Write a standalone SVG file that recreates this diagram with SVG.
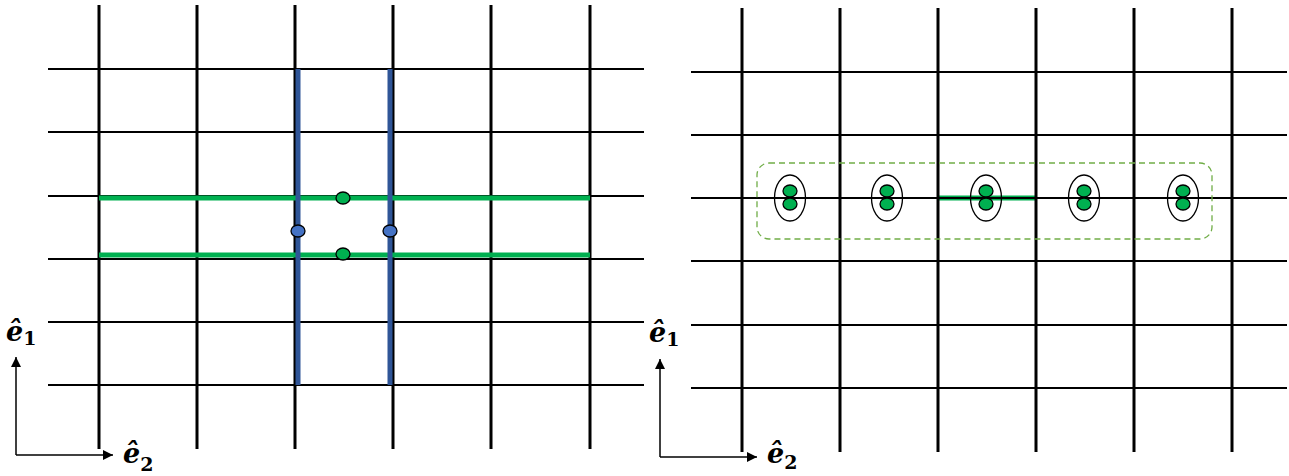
<svg xmlns="http://www.w3.org/2000/svg" width="1289" height="476" viewBox="0 0 1289 476">
<style>
.v{stroke:#000;stroke-width:3;fill:none}
.h{stroke:#000;stroke-width:2;fill:none}
.gl{stroke:#00B050;stroke-width:5;fill:none}
.bl{stroke:#2F5597;stroke-width:5;fill:none}
.gd{fill:#00B050;stroke:#000;stroke-width:1.3}
.bd{fill:#4472C4;stroke:#000;stroke-width:1.3}
.ring{fill:none;stroke:#000;stroke-width:1.3}
.ax{stroke:#000;stroke-width:1.5;fill:none}
.lbl{font-family:"DejaVu Serif",serif;font-weight:bold;font-style:italic;font-size:27px}
.sub{font-family:"DejaVu Serif",serif;font-weight:bold;font-style:normal;font-size:19px}
</style>
<defs>
<marker id="arr" viewBox="0 0 10 10" refX="10" refY="5" markerWidth="10" markerHeight="10" markerUnits="userSpaceOnUse" orient="auto">
<path d="M0,0 L10,5 L0,10 Z" fill="#000"/>
</marker>
</defs>

<g id="left-grid">
<path class="h" d="M48,69H644M48,132H644M48,196H644M48,259H644M48,322H644M48,385H644"/>
<path class="v" d="M99,5V449M197,5V449M295,5V449M393,5V449M491,5V449M590,5V449"/>
</g>
<g id="left-green-lines">
<path class="gl" d="M99,198H590M99,255H590"/>
</g>
<g id="left-blue-lines">
<path class="bl" d="M298,69V385M390,69V385"/>
</g>
<g id="left-dots">
<ellipse class="gd" cx="343" cy="198" rx="7" ry="6"/>
<ellipse class="gd" cx="343" cy="254" rx="7" ry="6"/>
<ellipse class="bd" cx="298" cy="231" rx="7" ry="6"/>
<ellipse class="bd" cx="390" cy="231" rx="7" ry="6"/>
</g>

<g id="right-grid">
<path class="gl" d="M938,198H1035"/>
<path class="h" d="M691,72H1287M691,135H1287M691,198H1287M691,261H1287M691,325H1287M691,388H1287"/>
<path class="v" d="M742,8V452M840,8V452M938,8V452M1036,8V452M1134,8V452M1232,8V452"/>
</g>
<g id="right-group">
<rect x="757" y="163" width="455" height="76" rx="12" ry="12" fill="none" stroke="#70AD47" stroke-width="1.3" stroke-dasharray="6,4"/>
</g>
<g id="right-pairs">
<g id="pair1"><ellipse class="ring" cx="790" cy="198" rx="15.5" ry="23"/><ellipse class="gd" cx="790" cy="191" rx="7" ry="6"/><ellipse class="gd" cx="790" cy="204" rx="7" ry="6"/></g>
<g id="pair2"><ellipse class="ring" cx="887" cy="198" rx="15.5" ry="23"/><ellipse class="gd" cx="887" cy="191" rx="7" ry="6"/><ellipse class="gd" cx="887" cy="204" rx="7" ry="6"/></g>
<g id="pair3"><ellipse class="ring" cx="986" cy="198" rx="15.5" ry="23"/><ellipse class="gd" cx="986" cy="191" rx="7" ry="6"/><ellipse class="gd" cx="986" cy="204" rx="7" ry="6"/></g>
<g id="pair4"><ellipse class="ring" cx="1084" cy="198" rx="15.5" ry="23"/><ellipse class="gd" cx="1084" cy="191" rx="7" ry="6"/><ellipse class="gd" cx="1084" cy="204" rx="7" ry="6"/></g>
<g id="pair5"><ellipse class="ring" cx="1183" cy="198" rx="15.5" ry="23"/><ellipse class="gd" cx="1183" cy="191" rx="7" ry="6"/><ellipse class="gd" cx="1183" cy="204" rx="7" ry="6"/></g>
</g>

<g id="connectors">
<path class="ax" d="M16,455V357" marker-end="url(#arr)"/>
<path class="ax" d="M16,455H113" marker-end="url(#arr)"/>
<path class="ax" d="M660,457V359" marker-end="url(#arr)"/>
<path class="ax" d="M660,457H757" marker-end="url(#arr)"/>
</g>

<g id="labels">
<text class="lbl" x="6" y="341">ê<tspan class="sub" dy="4">1</tspan></text>
<text class="lbl" x="123" y="463">ê<tspan class="sub" dy="8">2</tspan></text>
<text class="lbl" x="649" y="342">ê<tspan class="sub" dy="4">1</tspan></text>
<text class="lbl" x="767" y="463">ê<tspan class="sub" dy="6">2</tspan></text>
</g>
</svg>
